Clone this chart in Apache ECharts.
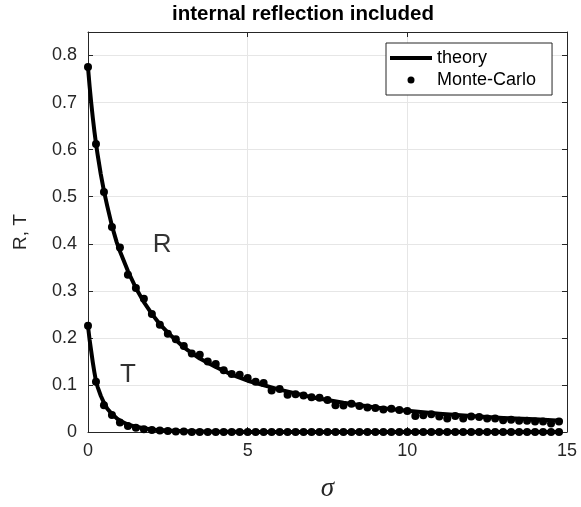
<!DOCTYPE html>
<html>
<head>
<meta charset="utf-8">
<style>
  html, body { margin: 0; padding: 0; background: #ffffff; }
  #chart { width: 581px; height: 507px; }
</style>
<script src="https://cdn.jsdelivr.net/npm/echarts@6/dist/echarts.min.js"></script>
</head>
<body>
<div id="chart"></div>
<script>
// ---- data ----
const titleText = 'internal reflection included';
const xName = 'σ';
const yName = 'R, T';
const xTicks = [0, 5, 10, 15];
const yTicks = [0, 0.1, 0.2, 0.3, 0.4, 0.5, 0.6, 0.7, 0.8];

// theory curves
const sigmaTheory = [0, 0.05, 0.1, 0.15, 0.2, 0.25, 0.3, 0.4, 0.5, 0.6, 0.75, 0.9, 1, 1.25, 1.5, 1.75, 2, 2.25, 2.5, 3, 3.5, 4, 4.5, 5, 6, 7, 8, 9, 10, 11, 12, 13, 14, 14.8];
const rTheory = [0.775, 0.735, 0.700, 0.668, 0.639, 0.613, 0.590, 0.548, 0.512, 0.481, 0.438, 0.403, 0.384, 0.342, 0.306, 0.276, 0.251, 0.229, 0.211, 0.180, 0.156, 0.138, 0.122, 0.109, 0.090, 0.074, 0.062, 0.052, 0.045, 0.039, 0.034, 0.030, 0.027, 0.024];
const tTheory = [0.225, 0.196, 0.172, 0.148, 0.127, 0.108, 0.096, 0.077, 0.062, 0.050, 0.038, 0.029, 0.024, 0.016, 0.011, 0.008, 0.0055, 0.004, 0.003, 0.0017, 0.001, 0.0006, 0.0004, 0.0002, 0.0001, 0, 0, 0, 0, 0, 0, 0, 0, 0];

// Monte-Carlo points
const sigmaMC = [0, 0.25, 0.5, 0.75, 1, 1.25, 1.5, 1.75, 2, 2.25, 2.5, 2.75, 3, 3.25, 3.5, 3.75, 4, 4.25, 4.5, 4.75,
  5, 5.25, 5.5, 5.75, 6, 6.25, 6.5, 6.75, 7, 7.25, 7.5, 7.75, 8, 8.25, 8.5, 8.75, 9, 9.25, 9.5, 9.75,
  10, 10.25, 10.5, 10.75, 11, 11.25, 11.5, 11.75, 12, 12.25, 12.5, 12.75, 13, 13.25, 13.5, 13.75, 14, 14.25, 14.5, 14.75];
const rMC = [0.7755, 0.612, 0.510, 0.4356, 0.392, 0.334, 0.306, 0.283, 0.251, 0.228, 0.209, 0.197, 0.183, 0.167, 0.164, 0.150, 0.1445, 0.131, 0.123, 0.1215,
  0.115, 0.107, 0.104, 0.088, 0.0915, 0.079, 0.080, 0.0775, 0.074, 0.073, 0.068, 0.057, 0.0565, 0.060, 0.055, 0.052, 0.051, 0.048, 0.0496, 0.0468,
  0.0447, 0.034, 0.0356, 0.0377, 0.0328, 0.0286, 0.034, 0.0286, 0.0328, 0.032, 0.0286, 0.0286, 0.025, 0.0258, 0.0237, 0.0237, 0.0223, 0.0223, 0.018, 0.0223];
const tMC = [0.226, 0.107, 0.057, 0.036, 0.020, 0.013, 0.009, 0.006, 0.004, 0.003, 0.002, 0.001, 0.001, 0, 0, 0, 0, 0, 0, 0,
  0, 0, 0, 0, 0, 0, 0, 0, 0, 0, 0, 0, 0, 0, 0, 0, 0, 0, 0, 0,
  0, 0, 0, 0, 0, 0, 0, 0, 0, 0, 0, 0, 0, 0, 0, 0, 0, 0, 0, 0];

// curve annotations
const annotText = ['R', 'T'];
const annotX = [2.32, 1.25];
const annotY = [0.398, 0.121];

// ---- chart ----
const zip = (xs, ys) => xs.map((x, i) => [x, ys[i]]);
const axisCol = '#262626';
const gridCol = '#e6e6e6';
const font = 'Liberation Sans, Arial, Helvetica, sans-serif';

const chart = echarts.init(document.getElementById('chart'), null, { renderer: 'canvas' });
chart.setOption({
  animation: false,
  backgroundColor: '#ffffff',
  title: {
    text: titleText,
    left: 303, top: 4, textAlign: 'center', padding: 0,
    textStyle: { fontFamily: font, fontWeight: 'bold', fontSize: 20.5, color: '#000' }
  },
  grid: { left: 88, right: 14, top: 32, bottom: 69, containLabel: false },
  legend: {
    left: 386, top: 43, orient: 'vertical',
    padding: [6, 16, 6, 4], itemGap: 4,
    itemWidth: 42, itemHeight: 7,
    borderColor: axisCol, borderWidth: 1, backgroundColor: '#fff',
    textStyle: { fontFamily: font, fontSize: 18, color: '#000' },
    data: [
      { name: 'theory', icon: 'path://M0,0L42,0L42,4L0,4Z', itemStyle: { color: '#000' } },
      { name: 'Monte-Carlo', icon: 'circle', itemStyle: { color: '#000' } }
    ]
  },
  xAxis: [{
    type: 'value', min: 0, max: 15, interval: 5,
    name: xName, nameLocation: 'middle', nameGap: 43,
    nameTextStyle: { fontFamily: 'Liberation Serif, Times New Roman, serif', fontStyle: 'italic', fontSize: 27, color: axisCol },
    axisLine: { show: true, onZero: false, lineStyle: { color: axisCol, width: 1 } },
    axisTick: { show: true, inside: true, length: 5, lineStyle: { color: axisCol } },
    axisLabel: { margin: 10, fontFamily: font, fontSize: 18, color: axisCol },
    splitLine: { show: true, lineStyle: { color: gridCol, width: 1 } }
  }, {
    type: 'value', min: 0, max: 15, interval: 5, position: 'top',
    axisLine: { show: true, onZero: false, lineStyle: { color: axisCol, width: 1 } },
    axisTick: { show: true, inside: true, length: 5, lineStyle: { color: axisCol } },
    axisLabel: { show: false }, splitLine: { show: false }
  }],
  yAxis: [{
    type: 'value', min: 0, max: 0.85, interval: 0.1,
    name: yName, nameLocation: 'middle', nameGap: 58,
    nameTextStyle: { fontFamily: font, fontSize: 19, color: axisCol },
    axisLine: { show: true, onZero: false, lineStyle: { color: axisCol, width: 1 } },
    axisTick: { show: true, inside: true, length: 5, lineStyle: { color: axisCol } },
    axisLabel: {
      margin: 11, fontFamily: font, fontSize: 18, color: axisCol,
      formatter: v => (yTicks.some(t => Math.abs(t - v) < 1e-9) ? (Math.abs(v) < 1e-9 ? '0' : String(Math.round(v * 10) / 10)) : '')
    },
    splitLine: { show: true, lineStyle: { color: gridCol, width: 1 } }
  }, {
    type: 'value', min: 0, max: 0.85, interval: 0.1, position: 'right',
    axisLine: { show: true, onZero: false, lineStyle: { color: axisCol, width: 1 } },
    axisTick: { show: true, inside: true, length: 5, lineStyle: { color: axisCol } },
    axisLabel: { show: false }, splitLine: { show: false }
  }],
  series: [
    { name: 'theory', type: 'line', data: zip(sigmaTheory, rTheory), symbol: 'none', smooth: false,
      lineStyle: { color: '#000', width: 4, join: 'round', cap: 'round' }, itemStyle: { color: '#000' }, z: 2 },
    { name: 'theory', type: 'line', data: zip(sigmaTheory, tTheory), symbol: 'none', smooth: false,
      lineStyle: { color: '#000', width: 4, join: 'round', cap: 'round' }, itemStyle: { color: '#000' }, z: 2 },
    { name: 'Monte-Carlo', type: 'scatter', data: zip(sigmaMC, rMC), symbol: 'circle', symbolSize: 8,
      itemStyle: { color: '#000', opacity: 1 }, z: 3 },
    { name: 'Monte-Carlo', type: 'scatter', data: zip(sigmaMC, tMC), symbol: 'circle', symbolSize: 8,
      itemStyle: { color: '#000', opacity: 1 }, z: 3 },
    { name: 'annotations', type: 'scatter', data: annotText.map((t, i) => ({ name: t, value: [annotX[i], annotY[i]] })),
      symbolSize: 0, silent: true, z: 4,
      label: { show: true, position: 'inside', formatter: p => p.name, fontFamily: font, fontSize: 26, color: '#000' } }
  ]
});
</script>
</body>
</html>
